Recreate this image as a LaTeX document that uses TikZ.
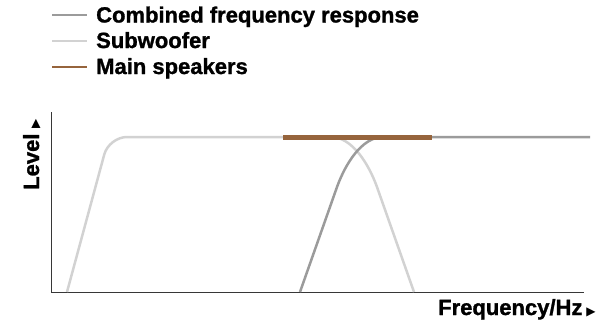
\documentclass[tikz,border=0pt]{standalone}
\usepackage{fontspec}
\setmainfont[BoldFeatures={FakeBold=1.2}]{Liberation Sans}
\newfontfamily\symfont{DejaVu Sans}
\usetikzlibrary{positioning}
\definecolor{combinedcolor}{RGB}{155,155,155}
\definecolor{subcolor}{RGB}{210,210,210}
\definecolor{maincolor}{RGB}{150,100,60}
\definecolor{axiscolor}{RGB}{55,55,55}

\tikzset{
  curve/.style={line width=2.5pt},
  legendline/.style={line width=2.6pt},
  lbl/.style={font=\bfseries\fontsize{22}{26}\selectfont, inner sep=0pt, anchor=base west},
}
\newcommand{\tri}{{\symfont\fontsize{12}{12}\selectfont ▶}}

\begin{document}
\begin{tikzpicture}[x=1pt,y=-1pt]
\useasboundingbox (0,0) rectangle (605,322);

% legend
\coordinate (combA) at (52,15);
\coordinate (combB) at (87,15);
\coordinate (subA) at (52,41);
\coordinate (subB) at (87,41);
\coordinate (mainA) at (52,67);
\coordinate (mainB) at (87,67);
\draw[legendline, combinedcolor] (combA) -- (combB);
\draw[legendline, subcolor] (subA) -- (subB);
\draw[legendline, maincolor] (mainA) -- (mainB);
\node[lbl] (combtext) at (96,22.5) {Combined frequency response};
\node[lbl] (subtext) at (96,48) {Subwoofer};
\node[lbl] (maintext) at (96,74) {Main speakers};

% axes
\coordinate (ytop) at (51.5,112);
\coordinate (origin) at (51.5,292);
\coordinate (xend) at (584,292);
\draw[axiscolor, line width=1pt] (ytop) -- (origin) -- (xend);
\node[lbl, rotate=90] (ylabel) at (39,190) {Level\hspace{5pt}\tri};
\node[lbl] (xlabel) at (438,315) {Frequency/Hz\hspace{4pt}\tri};

% subwoofer
\draw[curve, subcolor, rounded corners=18pt] (67,292) -- (109,137) -- (332,137);
\draw[curve, subcolor] (331,137) .. controls (352,137) and (368.5,163.5) .. (377,187) -- (414,292);

% combined
\draw[curve, combinedcolor] (300,292) -- (337,187) .. controls (345.5,163.5) and (362,137) .. (383,137) -- (590,137);

% main speakers
\draw[line width=5pt, maincolor] (283,137.5) -- (432,137.5);
\end{tikzpicture}
\end{document}
